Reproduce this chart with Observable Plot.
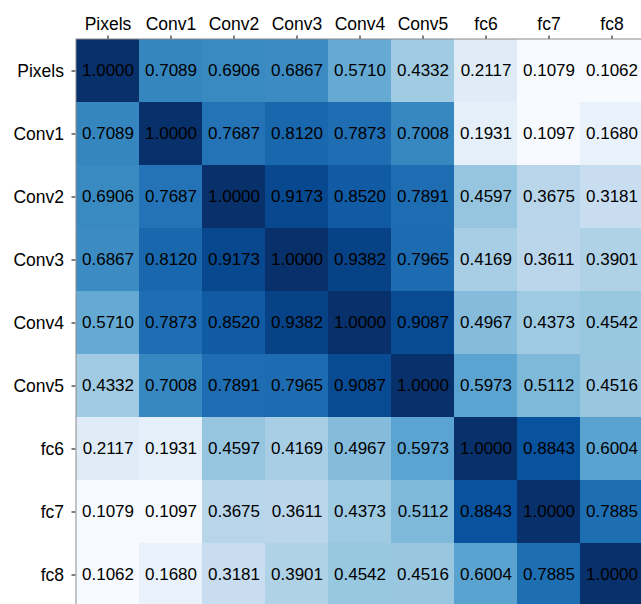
<!DOCTYPE html>
<html>
<head>
<meta charset="utf-8">
<script src="https://cdn.jsdelivr.net/npm/d3@7"></script>
<script src="https://cdn.jsdelivr.net/npm/@observablehq/plot@0.6"></script>
<style>
  html, body { margin: 0; padding: 0; background: #fff; overflow: hidden; }
  #chart svg { display: block; }
</style>
</head>
<body>
<div id="chart"></div>
<script>
// Layers compared by representation similarity
const layers = ["Pixels", "Conv1", "Conv2", "Conv3", "Conv4", "Conv5", "fc6", "fc7", "fc8"];

// One row of similarity values per layer, in the order of `layers`
const rowPixels = [1.0000, 0.7089, 0.6906, 0.6867, 0.5710, 0.4332, 0.2117, 0.1079, 0.1062];
const rowConv1  = [0.7089, 1.0000, 0.7687, 0.8120, 0.7873, 0.7008, 0.1931, 0.1097, 0.1680];
const rowConv2  = [0.6906, 0.7687, 1.0000, 0.9173, 0.8520, 0.7891, 0.4597, 0.3675, 0.3181];
const rowConv3  = [0.6867, 0.8120, 0.9173, 1.0000, 0.9382, 0.7965, 0.4169, 0.3611, 0.3901];
const rowConv4  = [0.5710, 0.7873, 0.8520, 0.9382, 1.0000, 0.9087, 0.4967, 0.4373, 0.4542];
const rowConv5  = [0.4332, 0.7008, 0.7891, 0.7965, 0.9087, 1.0000, 0.5973, 0.5112, 0.4516];
const rowFc6    = [0.2117, 0.1931, 0.4597, 0.4169, 0.4967, 0.5973, 1.0000, 0.8843, 0.6004];
const rowFc7    = [0.1079, 0.1097, 0.3675, 0.3611, 0.4373, 0.5112, 0.8843, 1.0000, 0.7885];
const rowFc8    = [0.1062, 0.1680, 0.3181, 0.3901, 0.4542, 0.4516, 0.6004, 0.7885, 1.0000];

const rows = [rowPixels, rowConv1, rowConv2, rowConv3, rowConv4, rowConv5, rowFc6, rowFc7, rowFc8];

// Sequential blue ramp (ColorBrewer Blues, 9 classes), linearly interpolated
const blues9 = ["#f7fbff", "#deebf7", "#c6dbef", "#9ecae1", "#6baed6", "#4292c6", "#2171b5", "#08519c", "#08306b"];

const cells = [];
rows.forEach((row, i) => row.forEach((v, j) => cells.push({row: layers[i], col: layers[j], value: v})));

const vmin = d3.min(cells, d => d.value);
const vmax = d3.max(cells, d => d.value);
const stops = blues9.map((_, k) => vmin + (vmax - vmin) * k / (blues9.length - 1));

const font = "'Liberation Sans', Arial, Helvetica, sans-serif";

const chart = Plot.plot({
  width: 641,
  height: 604,
  marginLeft: 75.5,
  marginTop: 38.5,
  marginRight: -3,
  marginBottom: -3,
  style: {fontFamily: font, fontSize: "17.5px", color: "#000", background: "#fff"},
  x: {domain: layers, padding: 0, axis: "top", label: null, tickSize: 4, tickPadding: 5},
  y: {domain: layers, padding: 0, label: null, tickSize: 4, tickPadding: 8},
  color: {type: "linear", domain: stops, range: blues9, interpolate: "rgb"},
  marks: [
    Plot.cell(cells, {x: "col", y: "row", fill: "value", inset: 0}),
    Plot.text(cells, {x: "col", y: "row", text: d => d.value.toFixed(4), fill: "#000", fontSize: 17}),
    Plot.frame({stroke: "#8a8a8a", strokeWidth: 1})
  ]
});

document.getElementById("chart").appendChild(chart);
</script>
</body>
</html>
